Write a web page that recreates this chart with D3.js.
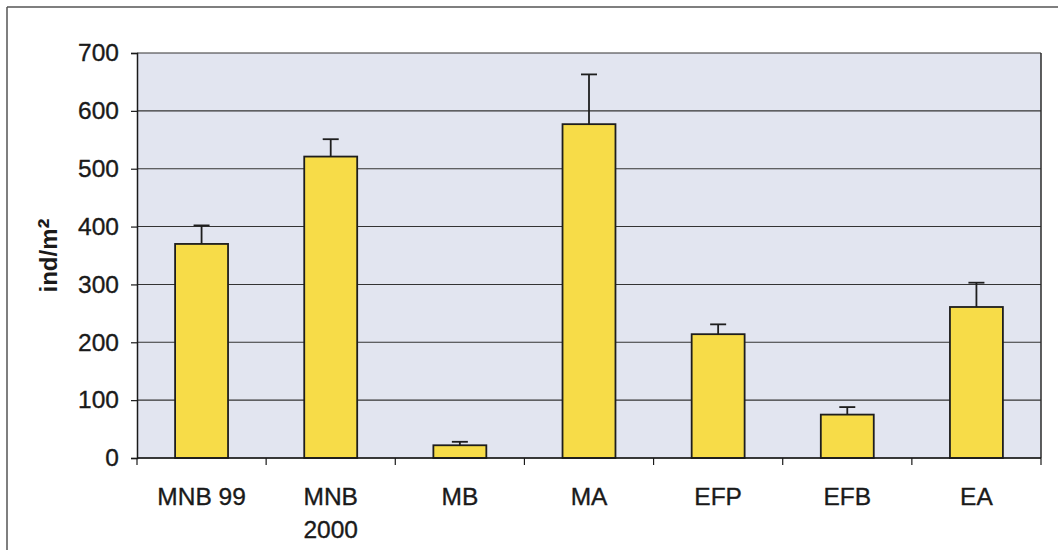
<!DOCTYPE html>
<html>
<head>
<meta charset="utf-8">
<script src="https://cdn.jsdelivr.net/npm/d3@7"></script>
<style>
  html, body { margin: 0; padding: 0; background: #ffffff; }
  svg { display: block; }
  text { font-family: "Liberation Sans", Arial, sans-serif; fill: #1a1a1a; }
</style>
</head>
<body>
<svg id="chart" width="1058" height="550"></svg>
<script>
// Density per site (individuals per square metre) with upper error bars
const categories = ["MNB 99", "MNB 2000", "MB", "MA", "EFP", "EFB", "EA"];
const labelLines = [["MNB 99"], ["MNB", "2000"], ["MB"], ["MA"], ["EFP"], ["EFB"], ["EA"]];
const means = [370, 521, 22, 577, 214, 75, 261];
const errors = [32, 30, 6, 86, 17, 13, 42];
const yTicks = [0, 100, 200, 300, 400, 500, 600, 700];
const yLabelBase = "ind/m";
const yLabelSup = "²";

const svg = d3.select("#chart");
const plot = { left: 137, right: 1041, top: 53, bottom: 458 };

// page frame lines
svg.append("line").attr("x1", 7).attr("x2", 1058).attr("y1", 7).attr("y2", 7)
  .attr("stroke", "#555").attr("stroke-width", 1.5);
svg.append("line").attr("x1", 7).attr("x2", 7).attr("y1", 7).attr("y2", 550)
  .attr("stroke", "#555").attr("stroke-width", 1.5);

const x = d3.scaleBand()
  .domain(categories)
  .range([plot.left, plot.right])
  .paddingInner(0.59)
  .paddingOuter(0.295);

const y = d3.scaleLinear()
  .domain([0, 700])
  .range([plot.bottom, plot.top]);

// plot area background
svg.append("rect")
  .attr("x", plot.left).attr("y", plot.top)
  .attr("width", plot.right - plot.left).attr("height", plot.bottom - plot.top)
  .attr("fill", "#e2e5f0");

// horizontal gridlines
svg.append("g").selectAll("line").data(yTicks).join("line")
  .attr("x1", plot.left).attr("x2", plot.right)
  .attr("y1", d => y(d)).attr("y2", d => y(d))
  .attr("stroke", "#333").attr("stroke-width", 1.1);

// right border of plot area
svg.append("line")
  .attr("x1", plot.right).attr("x2", plot.right)
  .attr("y1", plot.top).attr("y2", plot.bottom)
  .attr("stroke", "#2a2a2a").attr("stroke-width", 1.5);

// y axis
const yAxis = d3.axisLeft(y).tickValues(yTicks).tickSize(6).tickPadding(12);
const gy = svg.append("g").attr("transform", `translate(${plot.left},0)`).call(yAxis);
gy.select(".domain").attr("stroke", "#1a1a1a").attr("stroke-width", 1.5);
gy.selectAll(".tick line").attr("stroke", "#1a1a1a").attr("stroke-width", 1.2);
gy.selectAll(".tick text")
  .attr("font-size", 24.5)
  .attr("font-family", "Liberation Sans, Arial, sans-serif")
  .attr("fill", "#1a1a1a")
  .attr("stroke", "#1a1a1a")
  .attr("stroke-width", 0.35);

// y axis title with a larger superscript
const yt = svg.append("text")
  .attr("transform", `translate(57, ${(plot.top + plot.bottom) / 2}) rotate(-90)`)
  .attr("text-anchor", "middle")
  .attr("font-size", 24)
  .attr("font-weight", "bold");
yt.append("tspan").text(yLabelBase);
yt.append("tspan").attr("font-size", 30).attr("dy", 2).text(yLabelSup);

// bars
const bars = svg.append("g");
bars.selectAll("rect").data(categories).join("rect")
  .attr("x", d => x(d))
  .attr("y", (d, i) => y(means[i]))
  .attr("width", x.bandwidth())
  .attr("height", (d, i) => y(0) - y(means[i]))
  .attr("fill", "#f7dc48")
  .attr("stroke", "#1e1e1e")
  .attr("stroke-width", 1.8);

// upper error bars
const eb = svg.append("g").attr("stroke", "#1e1e1e").attr("stroke-width", 1.8);
categories.forEach((c, i) => {
  const cx = x(c) + x.bandwidth() / 2;
  eb.append("line")
    .attr("x1", cx).attr("x2", cx)
    .attr("y1", y(means[i])).attr("y2", y(means[i] + errors[i]));
  eb.append("line")
    .attr("x1", cx - 8).attr("x2", cx + 8)
    .attr("y1", y(means[i] + errors[i])).attr("y2", y(means[i] + errors[i]));
});

// x axis line and category boundary ticks
const step = x.step();
const boundaries = [plot.left].concat(categories.map(c => x(c) + x.bandwidth() / 2 + step / 2));
const gx = svg.append("g");
gx.append("line")
  .attr("x1", plot.left).attr("x2", plot.right)
  .attr("y1", y(0)).attr("y2", y(0))
  .attr("stroke", "#1a1a1a").attr("stroke-width", 1.5);
gx.selectAll("line.tick").data(boundaries).join("line")
  .attr("class", "tick")
  .attr("x1", d => d).attr("x2", d => d)
  .attr("y1", y(0)).attr("y2", y(0) + 7)
  .attr("stroke", "#1a1a1a").attr("stroke-width", 1.2);

// category labels
categories.forEach((c, i) => {
  const t = svg.append("text")
    .attr("x", x(c) + x.bandwidth() / 2)
    .attr("y", 505)
    .attr("text-anchor", "middle")
    .attr("font-size", 24.5)
    .attr("stroke", "#1a1a1a")
    .attr("stroke-width", 0.35);
  labelLines[i].forEach((line, j) => {
    t.append("tspan")
      .attr("x", x(c) + x.bandwidth() / 2)
      .attr("dy", j === 0 ? 0 : 33)
      .text(line);
  });
});
</script>
</body>
</html>
